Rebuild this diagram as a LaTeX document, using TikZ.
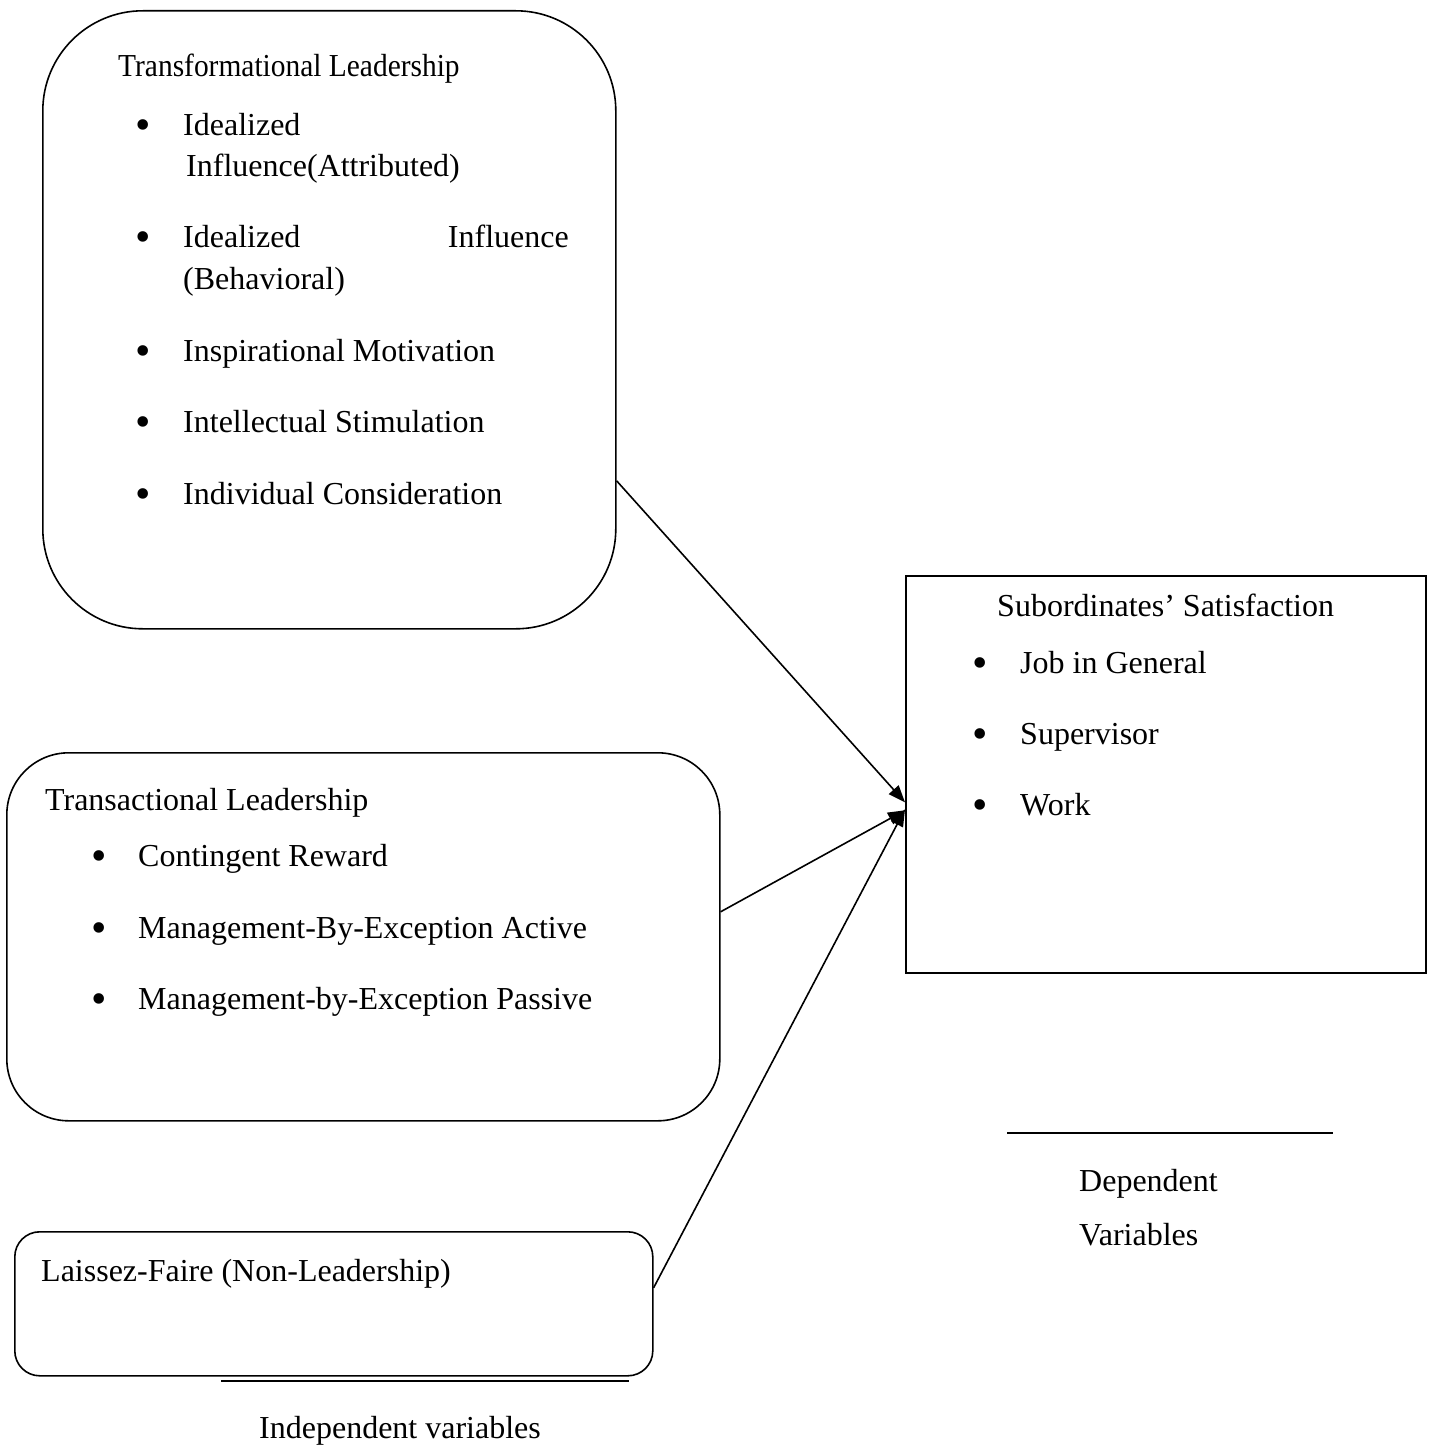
\documentclass[tikz,border=0pt]{standalone}
\usepackage{fontspec}
\setmainfont{Liberation Serif}
\usetikzlibrary{arrows.meta,calc}
\begin{document}
\begin{tikzpicture}[x=1pt,y=-1pt,
  box/.style={draw, line width=1.6pt, inner sep=0pt, anchor=north west},
  txt/.style={anchor=base west, inner sep=0pt, font=\fontsize{32}{38}\selectfont},
  bul/.style={anchor=base, inner sep=0pt, yshift=-4.5pt, font=\fontsize{44}{50}\selectfont},
  conn/.style={line width=1.6pt, -{Triangle[length=17pt,width=13pt]}},
  rule/.style={line width=1.6pt}]
\useasboundingbox (0,0) rectangle (1432,1445);

% boxes
\node[box, rounded corners=100pt, minimum width=573pt, minimum height=618pt] (tl) at (42,10) {};
\node[box, rounded corners=62pt, minimum width=713pt, minimum height=368pt] (ta) at (6,752) {};
\node[box, rounded corners=25pt, minimum width=638pt, minimum height=144pt] (lf) at (14,1231) {};
\node[box, minimum width=520pt, minimum height=397pt] (sub) at (905,575) {};

% transformational
\node[txt] (t0) at (118,76) {\scalebox{0.92}[1]{Transformational Leadership}};
\node[bul] (b1) at (143,135) {•};
\node[txt] (t1) at (183,135) {Idealized};
\node[txt] (t1b) at (186,176) {Influence(Attributed)};
\node[bul] (b2) at (143,247) {•};
\node[txt] (t2) at (183,247) {Idealized};
\node[txt, anchor=base east] (t2r) at (569,247) {Influence};
\node[txt] (t2b) at (183,289) {(Behavioral)};
\node[bul] (b3) at (143,361) {•};
\node[txt] (t3) at (183,361) {Inspirational Motivation};
\node[bul] (b4) at (143,432) {•};
\node[txt] (t4) at (183,432) {Intellectual Stimulation};
\node[bul] (b5) at (143,504) {•};
\node[txt] (t5) at (183,504) {Individual Consideration};

% transactional
\node[txt] (a0) at (45,810) {Transactional Leadership};
\node[bul] (c1) at (99,866) {•};
\node[txt] (a1) at (138,866) {Contingent Reward};
\node[bul] (c2) at (99,938) {•};
\node[txt] (a2) at (138,938) {Management-By-Exception Active};
\node[bul] (c3) at (99,1009) {•};
\node[txt] (a3) at (138,1009) {Management-by-Exception Passive};

% laissez-faire
\node[txt] (l0) at (41,1281) {Laissez-Faire (Non-Leadership)};

% subordinates
\node[txt] (s0) at (997,616) {Subordinates’ Satisfaction};
\node[bul] (d1) at (980,673) {•};
\node[txt] (s1) at (1020,673) {Job in General};
\node[bul] (d2) at (980,744) {•};
\node[txt] (s2) at (1020,744) {Supervisor};
\node[bul] (d3) at (980,815) {•};
\node[txt] (s3) at (1020,815) {Work};

% labels
\coordinate (ilL) at (221,1381);
\coordinate (ilR) at (629,1381);
\draw[rule] (ilL) -- (ilR);
\node[txt] (ind) at (259,1438) {Independent variables};
\coordinate (dlL) at (1007,1133);
\coordinate (dlR) at (1333,1133);
\draw[rule] (dlL) -- (dlR);
\node[txt] (dep1) at (1079,1191) {Dependent};
\node[txt] (dep2) at (1079,1245) {Variables};

% connectors
\draw[conn] ($(tl.east)+(0,161)$) -- ($(sub.west)+(0,28)$);
\draw[conn] ($(ta.east)+(0,-25)$) -- ($(sub.west)+(0,36)$);
\draw[conn] ($(lf.east)+(0,-16)$) -- ($(sub.west)+(0,35)$);
\end{tikzpicture}
\end{document}
